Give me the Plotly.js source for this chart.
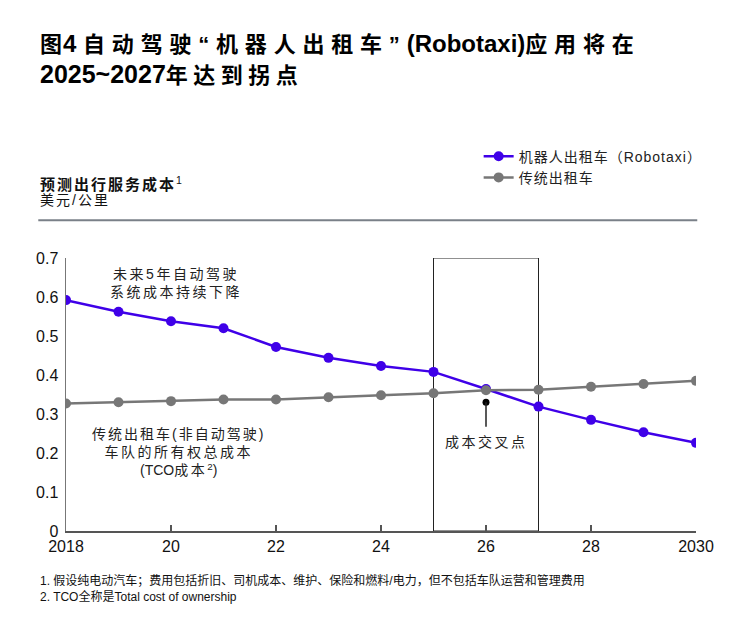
<!DOCTYPE html>
<html>
<head>
<meta charset="utf-8">
<script src="https://cdn.plot.ly/plotly-3.0.1.min.js"></script>
<style>
html,body{margin:0;padding:0;background:#fff;}
#chart{width:750px;height:625px;}
</style>
</head>
<body>
<div id="chart"></div>
<script>
const years = [2018,2019,2020,2021,2022,2023,2024,2025,2026,2027,2028,2029,2030];
const robotaxiCost = [0.592,0.562,0.538,0.520,0.472,0.444,0.423,0.408,0.364,0.319,0.285,0.253,0.226];
const taxiCost = [0.327,0.330,0.333,0.337,0.337,0.343,0.348,0.353,0.361,0.362,0.370,0.377,0.385];
const seriesNames = ['机器人出租车（Robotaxi）','传统出租车'];
const tickYears = [2018,2020,2022,2024,2026,2028,2030];
const tickLabels = ['2018','20','22','24','26','28','2030'];
const inflectionWindow = [2025,2027];
const crossoverYear = 2026;
const crossoverMarker = 0.33;

const BLUE = '#3F00E8';
const GRAY = '#777777';
const CJK = '"Liberation Sans", Arial, "Noto Sans CJK SC", sans-serif';

function sp(text, style){ return '<span style="' + style + '">' + text + '</span>'; }
const T1 = 'font-size:22px;letter-spacing:6.8px';
const T2 = 'font-size:22px;letter-spacing:5.5px';
const titleLine1 = '<b>' + sp('图','font-size:22px;letter-spacing:1px') + '4 ' + sp('自动驾驶“机器人出租车”', T1) +
  '(Robotaxi)' + sp('应用将在', T1) + '</b>';
const titleLine2 = '<b>2025~2027' + sp('年达到拐点', T2) + '</b>';
const A = 'letter-spacing:2.5px';

const traces = [
  {x: years, y: robotaxiCost, name: sp(seriesNames[0],'letter-spacing:1px'), type:'scatter', mode:'lines+markers',
   line:{color:BLUE, width:2.5}, marker:{color:BLUE, size:10}},
  {x: years, y: taxiCost, name: sp(seriesNames[1],'letter-spacing:1px'), type:'scatter', mode:'lines+markers',
   line:{color:GRAY, width:2.5}, marker:{color:GRAY, size:10}},
  {x:[crossoverYear], y:[crossoverMarker], type:'scatter', mode:'markers', showlegend:false,
   marker:{color:'#000', size:7}, hoverinfo:'skip'}
];

const layout = {
  width:750, height:625,
  margin:{l:66, r:54, t:258, b:94},
  paper_bgcolor:'#fff', plot_bgcolor:'#fff',
  font:{family:CJK, color:'#111'},
  showlegend:true,
  legend:{x:0.655, y:1.43, xanchor:'left', yanchor:'top', orientation:'v',
    font:{size:14, family:CJK, color:'#222'}, tracegroupgap:4, itemwidth:30, bgcolor:'rgba(0,0,0,0)'},
  xaxis:{range:[2018,2030], tickvals:tickYears, ticktext:tickLabels,
    showline:true, linecolor:'#555', linewidth:1.5, showgrid:false, zeroline:false,
    ticks:'inside', ticklen:6, tickcolor:'#555', tickwidth:1.5,
    tickfont:{size:16, family:'"Liberation Sans", Arial, sans-serif', color:'#111'}},
  yaxis:{range:[0,0.7], dtick:0.1, tickformat:'.1~f',
    showline:true, linecolor:'#777', linewidth:1.5, showgrid:false, zeroline:false,
    ticks:'', ticklabelstandoff:3,
    tickfont:{size:16, family:'"Liberation Sans", Arial, sans-serif', color:'#111'}},
  shapes:[
    {type:'rect', xref:'x', yref:'y', x0:inflectionWindow[0], x1:inflectionWindow[1], y0:0, y1:0.7,
     line:{color:'#222', width:1}, fillcolor:'rgba(0,0,0,0)', layer:'below'},
    {type:'line', xref:'x', yref:'y', x0:crossoverYear, x1:crossoverYear, y0:crossoverMarker, y1:0.267,
     line:{color:'#222', width:1.5}},
    {type:'line', xref:'paper', yref:'paper', x0:-0.044, x1:1.002, y0:1.138, y1:1.138,
     line:{color:'#7a8088', width:2}}
  ],
  annotations:[
    {xref:'paper', yref:'paper', x:-0.044, y:1.784, xanchor:'left', yanchor:'middle', align:'left', showarrow:false,
     text:titleLine1, font:{size:24, family:CJK, color:'#000'}},
    {xref:'paper', yref:'paper', x:-0.044, y:1.674, xanchor:'left', yanchor:'middle', align:'left', showarrow:false,
     text:titleLine2, font:{size:25, family:CJK, color:'#000'}},
    {xref:'paper', yref:'paper', x:-0.044, y:1.273, xanchor:'left', yanchor:'middle', align:'left', showarrow:false,
     text:'<b>' + sp('预测出行服务成本','letter-spacing:2px') + '</b><sup>1</sup>', font:{size:15, family:CJK, color:'#111'}},
    {xref:'paper', yref:'paper', x:-0.044, y:1.213, xanchor:'left', yanchor:'middle', align:'left', showarrow:false,
     text:sp('美元/公里','letter-spacing:2px'), font:{size:14, family:CJK, color:'#111'}},
    {xref:'x', yref:'y', x:2020.1, y:0.685, xanchor:'center', yanchor:'top', showarrow:false, align:'center',
     text:sp('未来5年自动驾驶',A) + '<br>' + sp('系统成本持续下降',A), font:{size:14, family:CJK, color:'#222'}},
    {xref:'x', yref:'y', x:2020.15, y:0.275, xanchor:'center', yanchor:'top', showarrow:false, align:'center',
     text:sp('传统出租车(非自动驾驶)','letter-spacing:2px') + '<br>' + sp('车队的所有权总成本',A) + '<br>(TCO' + sp('成本',A) + '<sup>2</sup>)',
     font:{size:14, family:CJK, color:'#222'}},
    {xref:'x', yref:'y', x:crossoverYear, y:0.229, xanchor:'center', yanchor:'middle', showarrow:false,
     text:sp('成本交叉点',A), font:{size:14, family:CJK, color:'#222'}},
    {xref:'paper', yref:'paper', x:-0.044, y:-0.18, xanchor:'left', yanchor:'middle', align:'left', showarrow:false,
     text:'1. 假设纯电动汽车；费用包括折旧、司机成本、维护、保险和燃料/电力，但不包括车队运营和管理费用',
     font:{size:12, family:CJK, color:'#111'}},
    {xref:'paper', yref:'paper', x:-0.044, y:-0.24, xanchor:'left', yanchor:'middle', align:'left', showarrow:false,
     text:'2. TCO全称是Total cost of ownership', font:{size:12, family:CJK, color:'#111'}}
  ]
};

Plotly.newPlot('chart', traces, layout, {displayModeBar:false, staticPlot:true});
</script>
</body>
</html>
